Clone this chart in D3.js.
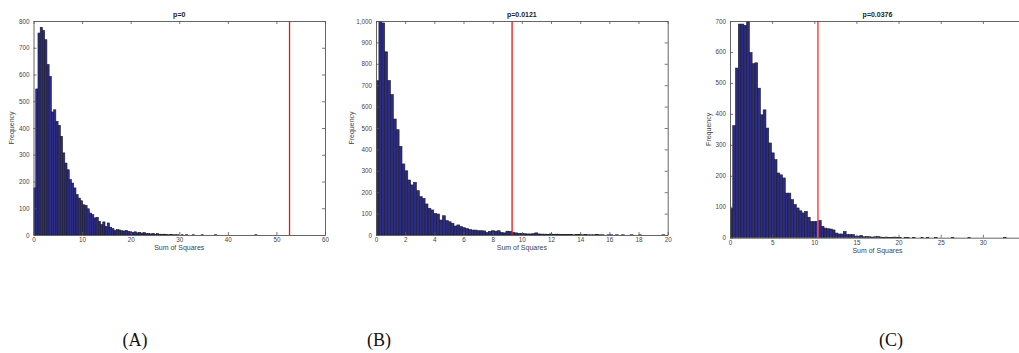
<!DOCTYPE html>
<html>
<head>
<meta charset="utf-8">
<script src="https://cdn.jsdelivr.net/npm/d3@7"></script>
<style>
  html, body { margin: 0; padding: 0; background: #fff; }
  svg { display: block; }
</style>
</head>
<body>
<svg id="fig" width="1019" height="353"></svg>
<script>
// Histogram counts (100 bins each) of simulated sum-of-squares statistics
const countsA = [
  176, 546, 755, 776, 765, 730, 637, 593, 460, 468,
  425, 410, 369, 307, 269, 244, 207, 194, 176, 151,
  138, 128, 113, 110, 98, 82, 76, 64, 66, 51,
  39, 49, 32, 45, 29, 24, 17, 20, 19, 16,
  15, 17, 14, 12, 10, 12, 8, 10, 7, 9,
  5, 6, 4, 6, 3, 5, 3, 2, 3, 2,
  1, 2, 1, 1, 1, 0, 1, 0, 1, 0,
  0, 1, 0, 0, 0, 1, 0, 0, 0, 0,
  0, 1, 0, 0, 0, 0, 0, 0, 0, 0,
  0, 0, 0, 0, 0, 0, 0, 0, 0, 1
];
const countsB = [
  721, 1000, 991, 856, 722, 656, 542, 492, 414, 332,
  300, 257, 234, 246, 207, 179, 171, 145, 125, 117,
  101, 98, 70, 90, 67, 62, 55, 42, 47, 39,
  34, 30, 26, 23, 23, 20, 20, 19, 12, 17,
  20, 18, 20, 12, 10, 18, 17, 12, 10, 8,
  8, 6, 5, 5, 6, 10, 5, 4, 4, 3,
  5, 3, 4, 2, 3, 2, 2, 3, 1, 2,
  3, 1, 2, 1, 1, 1, 2, 1, 1, 0,
  1, 1, 0, 1, 0, 1, 0, 0, 1, 0,
  0, 1, 0, 0, 0, 0, 0, 0, 0, 1
];
const countsC = [
  94, 362, 548, 690, 690, 686, 700, 598, 562, 565,
  483, 397, 413, 354, 306, 274, 252, 209, 203, 193,
  144, 144, 123, 107, 96, 87, 80, 85, 66, 52,
  52, 53, 56, 37, 31, 29, 28, 25, 15, 12,
  12, 20, 10, 10, 10, 5, 5, 7, 3, 4,
  3, 2, 3, 4, 2, 1, 2, 1, 1, 2,
  1, 1, 0, 1, 1, 0, 1, 0, 0, 1,
  0, 1, 0, 0, 1, 0, 0, 0, 0, 0,
  1, 0, 0, 0, 0, 0, 1, 0, 0, 0,
  0, 0, 0, 0, 0, 0, 0, 0, 0, 1
];

// Histogram ranges (min, max of the simulated statistic)
const rangeA = [0, 46];
const rangeB = [0, 19.8];
const rangeC = [0, 32.8];

// Observed statistic (red line) and p-value titles
const observed = [52.7, 9.33, 10.43];
const titles = ["p=0", "p=0.0121", "p=0.0376"];
const panelLabels = ["(A)", "(B)", "(C)"];

// Axis limits and ticks
const xDomains = [[0, 60], [0, 20], [0, 35]];
const yDomains = [[0, 800], [0, 1000], [0, 700]];
const xTicks = [
  [0, 10, 20, 30, 40, 50, 60],
  [0, 2, 4, 6, 8, 10, 12, 14, 16, 18, 20],
  [0, 5, 10, 15, 20, 25, 30]
];
const yTicks = [
  [0, 100, 200, 300, 400, 500, 600, 700, 800],
  [0, 100, 200, 300, 400, 500, 600, 700, 800, 900, 1000],
  [0, 100, 200, 300, 400, 500, 600, 700]
];

const xLabel = "Sum of Squares";
const yLabel = "Frequency";

const panels = [
  { counts: countsA, range: rangeA, box: { l: 33.5, r: 325, t: 21, b: 235 }, ylabX: 12, capX: 135, red: "#f01010", redW: 1.3 },
  { counts: countsB, range: rangeB, box: { l: 376, r: 667.7, t: 21, b: 235 }, ylabX: 352, capX: 379, red: "#f01010", redW: 1.3 },
  { counts: countsC, range: rangeC, box: { l: 730, r: 1025, t: 21, b: 237.7 }, ylabX: 709, capX: 891, red: "#ff5050", redW: 1.6 }
];

const svg = d3.select("#fig");
const font = "'Liberation Sans', Arial, Helvetica, sans-serif";
const axisColor = "#555";
const textColor = "#444";

panels.forEach((p, i) => {
  const { l, r, t, b } = p.box;
  const x = d3.scaleLinear().domain(xDomains[i]).range([l, r]);
  const y = d3.scaleLinear().domain(yDomains[i]).range([b, t]);
  const g = svg.append("g");

  const clipId = "clip" + i;
  svg.append("defs").append("clipPath").attr("id", clipId)
    .append("rect").attr("x", l).attr("y", t).attr("width", r - l).attr("height", b - t);

  // histogram bars
  const n = p.counts.length;
  const w = (p.range[1] - p.range[0]) / n;
  const bins = p.counts.map((c, k) => ({ x0: p.range[0] + k * w, x1: p.range[0] + (k + 1) * w, c }));
  g.append("g").attr("clip-path", `url(#${clipId})`)
    .selectAll("rect").data(bins).join("rect")
    .attr("x", d => x(d.x0))
    .attr("width", d => Math.max(0, x(d.x1) - x(d.x0)))
    .attr("y", d => y(d.c))
    .attr("height", d => y(0) - y(d.c))
    .attr("fill", "#2c2c86")
    .attr("stroke", "#1b1b28")
    .attr("stroke-width", 0.6);

  // observed statistic
  g.append("line")
    .attr("x1", x(observed[i])).attr("x2", x(observed[i]))
    .attr("y1", y(yDomains[i][1])).attr("y2", y(0))
    .attr("stroke", p.red).attr("stroke-width", p.redW);

  // axes with inward ticks on all four sides
  const tickLen = 3;
  const styleAxis = sel => {
    sel.selectAll("path.domain").attr("stroke", axisColor).attr("stroke-width", 0.9);
    sel.selectAll(".tick line").attr("stroke", axisColor).attr("stroke-width", 0.8);
    sel.selectAll("text").attr("fill", textColor).style("font-family", font).style("font-size", "6.3px");
  };
  g.append("g").attr("transform", `translate(0,${b})`)
    .call(d3.axisBottom(x).tickValues(xTicks[i]).tickSize(-tickLen).tickSizeOuter(0).tickPadding(3))
    .call(styleAxis);
  g.append("g").attr("transform", `translate(0,${t})`)
    .call(d3.axisTop(x).tickValues(xTicks[i]).tickSize(-tickLen).tickSizeOuter(0).tickFormat(""))
    .call(styleAxis);
  g.append("g").attr("transform", `translate(${l},0)`)
    .call(d3.axisLeft(y).tickValues(yTicks[i]).tickSize(-tickLen).tickSizeOuter(0).tickPadding(4))
    .call(styleAxis);
  g.append("g").attr("transform", `translate(${r},0)`)
    .call(d3.axisRight(y).tickValues(yTicks[i]).tickSize(-tickLen).tickSizeOuter(0).tickFormat(""))
    .call(styleAxis);

  // title
  g.append("text")
    .attr("x", (l + r) / 2).attr("y", t - 4)
    .attr("text-anchor", "middle")
    .style("font-family", font).style("font-size", "7px").style("font-weight", "bold")
    .attr("fill", "#222")
    .text(titles[i]);

  // axis labels
  g.append("text")
    .attr("x", (l + r) / 2).attr("y", b + 15)
    .attr("text-anchor", "middle")
    .style("font-family", font).style("font-size", "7px")
    .attr("fill", textColor)
    .text(xLabel);
  g.append("text")
    .attr("transform", `translate(${p.ylabX},${(t + b) / 2}) rotate(-90)`)
    .attr("text-anchor", "middle")
    .attr("dy", "0.35em")
    .style("font-family", font).style("font-size", "7px")
    .attr("fill", textColor)
    .text(yLabel);

  // panel caption
  svg.append("text")
    .attr("x", p.capX).attr("y", 346)
    .attr("text-anchor", "middle")
    .style("font-family", "'Liberation Serif', 'Times New Roman', serif")
    .style("font-size", "18px")
    .attr("fill", "#111")
    .text(panelLabels[i]);
});
</script>
</body>
</html>
